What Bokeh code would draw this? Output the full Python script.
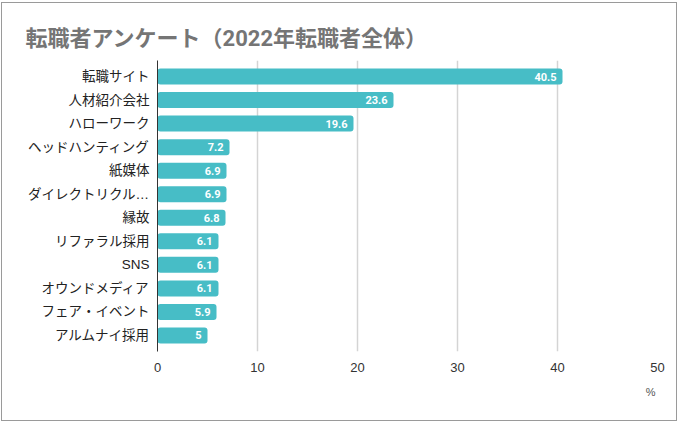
from bokeh.plotting import figure
from bokeh.models import ColumnDataSource, FactorRange, Title, FixedTicker
from bokeh.core.properties import value
from bokeh.embed import file_html
from bokeh.resources import INLINE

categories = ["転職サイト", "人材紹介会社", "ハローワーク", "ヘッドハンティング", "紙媒体",
              "ダイレクトリクル…", "縁故", "リファラル採用", "SNS", "オウンドメディア",
              "フェア・イベント", "アルムナイ採用"]
values = [40.5, 23.6, 19.6, 7.2, 6.9, 6.9, 6.8, 6.1, 6.1, 6.1, 5.9, 5]
x_ticks = [0, 10, 20, 30, 40, 50]
title_text = "転職者アンケート（2022年転職者全体）"
unit_text = "%"

labels = [f"{v:g}" for v in values]
src = ColumnDataSource(dict(cat=categories, val=values, lab=labels))

yr = FactorRange(factors=list(reversed(categories)), range_padding=0.18,
                 range_padding_units="absolute")

p = figure(width=676, height=419, y_range=yr, x_range=(0, 50),
           output_backend="svg", toolbar_location=None,
           min_border_left=155, min_border_right=21, min_border_top=57,
           min_border_bottom=71, title=None)
p.styles = {"border": "1px solid #9a9a9a", "margin": "2px 0 0 1px"}

p.hbar(y="cat", right="val", left=0, height=0.68, source=src,
       fill_color="#47bdc6", line_color=None, border_radius=3)
p.text(x="val", y="cat", text="lab", source=src, x_offset=-6,
       text_align="right", text_baseline="middle", text_color="white",
       text_font=value("Roboto"), text_font_style="bold", text_font_size="11px")

p.xaxis.ticker = FixedTicker(ticks=x_ticks)
p.xaxis.axis_line_color = None
p.xaxis.major_tick_line_color = None
p.xaxis.minor_tick_line_color = None
p.xaxis.major_label_text_font = "Liberation Sans"
p.xaxis.major_label_text_font_size = "13px"
p.xaxis.major_label_text_color = "#333333"
p.xaxis.major_label_standoff = 5

p.yaxis.axis_line_color = "#333333"
p.yaxis.axis_line_width = 1
p.yaxis.major_tick_line_color = None
p.yaxis.minor_tick_line_color = None
p.yaxis.major_label_text_font = "Liberation Sans, Noto Sans CJK JP"
p.yaxis.major_label_text_font_size = "13.5px"
p.yaxis.major_label_text_color = "#222222"
p.yaxis.major_label_standoff = 2

p.ygrid.grid_line_color = None
p.xgrid.ticker = FixedTicker(ticks=x_ticks[1:])
p.xgrid.grid_line_color = "#d4d4d4"
p.xgrid.grid_line_width = 1.5
p.outline_line_color = None

p.add_layout(Title(text=title_text, align="left", offset=-132, standoff=20,
                   text_font="Roboto, Noto Sans CJK JP", text_font_style="bold",
                   text_font_size="22px", text_color="#757575"), "above")
p.add_layout(Title(text=unit_text, align="right", offset=2, standoff=19,
                   text_font="Liberation Sans", text_font_style="normal",
                   text_font_size="11px", text_color="#555555"), "below")

open("out.html", "w").write(file_html(p, INLINE))
